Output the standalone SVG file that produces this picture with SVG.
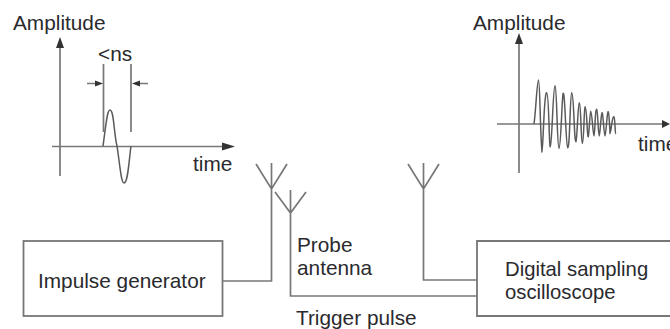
<svg xmlns="http://www.w3.org/2000/svg" width="670" height="329" viewBox="0 0 670 329">
<style>
text{font-family:"Liberation Sans",Arial,sans-serif;font-size:20.800px;fill:#2a2a2e}
.l{fill:none;stroke:#777;stroke-width:1.7}
.w{fill:none;stroke:#5a5a5a;stroke-width:1.5}
.b{fill:#fff;stroke:#777;stroke-width:1.8}
.h{fill:#333}
</style>
<rect width="670" height="329" fill="#fff"/>
<g id="connectors">
<path class="l" d="M222 281H271.500V163M256 164L271.500 189L287 164"/>
<path class="l" d="M477 296H290.500V190M275 192L290.500 213L306 192"/>
<path class="l" d="M477 280H423.500V163M408 164L423.500 189L439 164"/>
</g>
<g id="impulse-generator"><rect class="b" x="23.500" y="241" width="199" height="75"/><text x="38" y="288">Impulse generator</text></g>
<g id="digital-sampling-oscilloscope"><path class="b" d="M670 241H477V316H670"/><text x="505" y="276" style="font-size:20.300px">Digital sampling</text><text x="505" y="299" style="font-size:20.300px">oscilloscope</text></g>
<g id="probe-antenna-label"><text x="297" y="252">Probe</text><text x="297" y="275">antenna</text></g>
<g id="trigger-pulse-label"><text x="296" y="325">Trigger pulse</text></g>
<g id="pulse-plot">
<text x="13" y="30">Amplitude</text>
<path class="l" d="M60 176V46M52 146.500H226M103.500 64V132M131 64V132M87 83.500H97M148 83.500H138"/>
<path class="h" d="M60 37L64 48H56ZM235 146.500L222 142.500V150.500ZM103 83.500L95 80.500V86.500ZM132 83.500L140 80.500V86.500Z"/>
<text x="98" y="61">&lt;ns</text>
<text x="193" y="171">time</text>
<path class="w" d="M103 146C106 125 107 110 110 110C114 110 114 135 117 146C120 165 121 183 124 183C128 183 129 160 131 146"/>
</g>
<g id="decay-plot">
<text x="473" y="30">Amplitude</text>
<path class="l" d="M519 173V42M497 124H664"/>
<path class="h" d="M519 33L523 44H515ZM670 124L662 120V128Z"/>
<text x="638" y="151">time</text>
<path class="w" d="M534 124C536 110 537 80 538.500 80C540 80 540 130 542 152C543 152 544 92 546.700 92.700C549 93 549 147 550.300 146.700C552 146 553 86 555 85.700C557 86 557 148 559 148.300C561 148 562 93 563.300 93.300C565 93 566 147 567.700 147.700C570 148 570 93 571.700 92.700C574 93 574 142 576 141.700C577 141 578 103 579.300 102.700C581 103 581 143 582.300 143.300C584 143 584 107 585 106.700C587 107 587 137 588.300 136.700C589 136 590 111 590.700 111C592 111 593 136 594 136C595 136 595 109 596.700 109.300C598 110 598 136 599.300 136C600 136 601 112 602.300 112.700C603 113 604 136 605 136C606 136 607 111 608.300 111.700C609 112 610 133 610 133.300C611 133 612 116 614 116.700C615 117 615 134 615.700 134"/>
</g>
</svg>
